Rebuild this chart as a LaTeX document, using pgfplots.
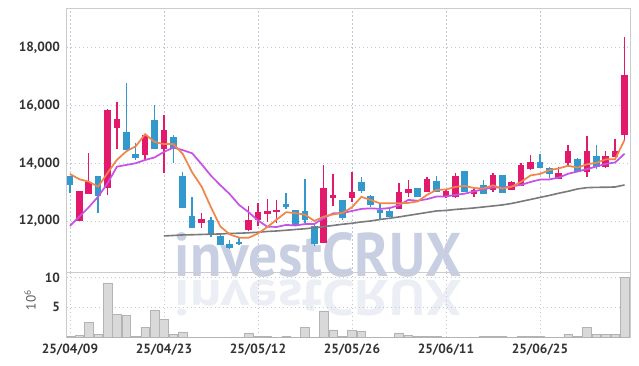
\documentclass[border=0pt]{standalone}
\usepackage{pgfplots}
\pgfplotsset{compat=1.18}
\usepackage{pgfplotstable}
\usepackage{fontspec}
\setmainfont{PT Sans}
\definecolor{upc}{HTML}{E3196B}
\definecolor{dnc}{HTML}{3399CC}
\definecolor{maA}{HTML}{F0864A}
\definecolor{maB}{HTML}{C653E6}
\definecolor{maC}{HTML}{7A7A7A}
\definecolor{gridc}{HTML}{C4C7D8}
\definecolor{framec}{HTML}{CCCCCC}
\definecolor{wm}{HTML}{C9CFE3}
\definecolor{wmr}{HTML}{ECEEF5}
\definecolor{volf}{HTML}{D9D9D9}
\definecolor{vole}{HTML}{B3B3B3}
\definecolor{labc}{HTML}{333333}

\pgfplotstableread{
i o h l c
1 12010 13030 12000 13016
2 12960 14346 12950 13327
4 13154 15870 12901 15847
5 15248 16114 14496 15535
8 14312 15000 14114 14981
10 14520 15674 13674 15154
14 11955 12267 11747 12069
19 11688 12530 11650 12035
20 12035 12613 11827 12288
21 12267 12752 11976 12322
22 12322 12728 11920 12381
27 11248 13941 11230 13133
28 12821 13629 12520 12877
30 12808 13709 12669 12995
35 12440 13327 12430 12995
36 12995 13421 12842 13099
38 13016 13535 13000 13445
40 12877 13070 12787 13040
41 12842 13653 12787 13560
43 12936 13189 12842 13075
45 13099 13653 13016 13594
47 13099 13400 13080 13341
48 13213 14000 13200 13941
49 13827 14288 13768 14035
52 13480 13882 13470 13653
53 14035 14634 13882 14402
55 13709 14946 13515 14426
57 13882 14426 13847 14253
58 14229 14832 14220 14426
59 15005 18388 14807 17060
}\upT

\pgfplotstableread{
i o h l c
0 13535 13550 12970 13248
3 13560 13570 12267 12877
6 15074 16773 14470 14485
7 14322 14693 14114 14194
9 15501 16021 14480 14500
11 14901 14981 14000 14520
12 13560 13709 12450 12461
13 12173 12821 11770 11782
15 12035 12128 11435 11539
16 11456 11574 11170 11192
17 11192 11341 11019 11088
18 11250 11400 11180 11220
23 12579 12981 12405 12496
24 12357 12381 11850 11861
25 12347 13445 11920 12035
26 11803 11896 11133 11227
29 12728 12740 12035 12128
31 13327 13525 12960 13040
32 12867 12901 12496 12579
33 12381 12613 12069 12301
34 12347 12440 12140 12150
37 13133 13140 12830 12842
39 13386 13545 12990 13016
42 13733 13740 13000 13016
44 13248 13421 12930 12936
46 13594 13600 12970 12981
50 14021 14312 13830 13847
51 13827 13882 13501 13629
54 14149 14194 13700 13709
56 14253 14634 13800 13882
}\dnT

\pgfplotstableread{
i ma5 ma10 vol
0 13629 11827 0.1
1 13445 12149 0.3
2 13362 12475 2.45
3 13189 12842 0.45
4 13663 13307 9.1
5 14120 13882 3.8
6 14414 13941 3.65
7 14588 14000 0.2
8 15008 14114 1.6
9 14739 14201 4.5
10 14662 14392 2.95
11 14669 14542 0.55
12 14323 14456 0.9
13 13683 14346 0.05
14 13197 13968 0.05
15 12474 13569 0.05
16 11809 13240 0.03
17 11534 12929 0.03
18 11422 12553 0.03
19 11415 12306 0.75
20 11565 12019 0.2
21 11791 11800 0.2
22 12049 11792 0.05
23 12304 11863 0.2
24 12270 11842 0.05
25 12219 11892 1.6
26 12000 11895 0.05
27 12150 12100 4.4
28 12227 12266 1.25
29 12280 12275 0.2
30 12472 12346 1.1
31 12835 12417 0.95
32 12724 12437 0.05
33 12609 12418 0.05
34 12613 12447 0.05
35 12613 12543 0.75
36 12625 12730 0.3
37 12677 12701 0.1
38 12906 12757 0.2
39 13079 12846 0.1
40 13088 12851 0.05
41 13181 12903 0.05
42 13215 12946 0.05
43 13141 13024 0.03
44 13125 13102 0.1
45 13236 13162 0.2
46 13120 13151 0.1
47 13185 13200 0.05
48 13359 13250 0.2
49 13578 13352 0.2
50 13629 13433 0.1
51 13759 13440 0.05
52 13821 13503 0.05
53 13913 13636 0.55
54 13848 13713 0.2
55 13964 13796 1.6
56 14014 13887 0.55
57 14134 13978 0.55
58 14139 14026 0.55
59 14809 14329 10.0
}\maT

\pgfplotstableread{
i v
10 11480
11 11497
12 11515
13 11522
14 11532
15 11542
16 11549
17 11567
18 11574
19 11591
20 11608
21 11636
22 11653
23 11678
24 11705
25 11729
26 11764
27 11802
28 11844
29 11886
30 11920
31 11965
32 12000
33 12052
34 12094
35 12139
36 12191
37 12243
38 12295
39 12347
40 12364
41 12399
42 12423
43 12451
44 12485
45 12520
46 12555
47 12607
48 12676
49 12745
50 12815
51 12884
52 12960
53 13029
54 13109
55 13154
56 13165
57 13168
58 13178
59 13248
}\grT

\begin{document}
\begin{tikzpicture}
\fill[white] (0pt,0pt) rectangle (479.25pt,274.5pt);
\useasboundingbox (0pt,0pt) rectangle (479.25pt,274.5pt);
% watermark and its reflection
\node[anchor=base west, inner sep=0pt, text=wmr, font=\fontsize{44}{44}\selectfont\bfseries, xscale=0.98, yscale=-0.85, transform shape] at (131pt,64pt) {investCRUX};
\node[anchor=base west, inner sep=0pt, text=wm, font=\fontsize{44}{44}\selectfont\bfseries, xscale=0.98, yscale=1.05, transform shape] at (131pt,66.75pt) {investCRUX};
\node[rotate=90, text=labc!80, font=\fontsize{10}{12}\selectfont] at (22.5pt,49.5pt) {10\textsuperscript{6}};

\begin{axis}[
  at={(50pt,70pt)}, anchor=south west,
  scale only axis, width=423pt, height=197.8pt,
  xmin=-0.35, xmax=59.65, ymin=10208, ymax=19348,
  axis line style={framec, line width=0.8pt},
  xtick={0,10,20,30,40,50}, xticklabels={},
  ytick={12000,14000,16000,18000},
  scaled y ticks=false,
  /pgf/number format/1000 sep={,},
  /pgf/number format/assume math mode=true,
  yticklabel style={font=\bfseries\fontsize{10}{12}\selectfont, text=labc, xshift=-1.5pt},
  major tick length=0pt,
  grid=major,
  major grid style={gridc, line width=0.6pt, dash pattern=on 1.1pt off 1.9pt},
]
% wicks
\addplot[forget plot, draw=none, no markers, error bars/.cd, y dir=both, y explicit, error mark=none,
  error bar style={draw=upc, line width=1.0pt, solid}]
  table[x=i, y expr={(\thisrow{h}+\thisrow{l})/2}, y error expr={(\thisrow{h}-\thisrow{l})/2}] {\upT};
\addplot[forget plot, draw=none, no markers, error bars/.cd, y dir=both, y explicit, error mark=none,
  error bar style={draw=dnc, line width=1.0pt, solid}]
  table[x=i, y expr={(\thisrow{h}+\thisrow{l})/2}, y error expr={(\thisrow{h}-\thisrow{l})/2}] {\dnT};
% bodies
\addplot[forget plot, draw=none, no markers, error bars/.cd, y dir=both, y explicit, error mark=none,
  error bar style={draw=upc, line width=5pt, solid}]
  table[x=i, y expr={(\thisrow{o}+\thisrow{c})/2}, y error expr={abs(\thisrow{c}-\thisrow{o})/2+10}] {\upT};
\addplot[forget plot, draw=none, no markers, error bars/.cd, y dir=both, y explicit, error mark=none,
  error bar style={draw=dnc, line width=5pt, solid}]
  table[x=i, y expr={(\thisrow{o}+\thisrow{c})/2}, y error expr={abs(\thisrow{c}-\thisrow{o})/2+10}] {\dnT};
% moving averages
\addplot[maC, line width=1.2pt, mark=none] table[x=i, y=v] {\grT};
\addplot[maB, line width=1.3pt, mark=none] table[x=i, y=ma10] {\maT};
\addplot[maA, line width=1.3pt, mark=none] table[x=i, y=ma5] {\maT};
\end{axis}

\begin{axis}[
  at={(50pt,21.5pt)}, anchor=south west,
  scale only axis, width=423pt, height=48.5pt,
  xmin=-0.35, xmax=59.65, ymin=0, ymax=10.8,
  axis line style={framec, line width=0.8pt},
  xtick={0,10,20,30,40,50},
  xticklabels={25/04/09,25/04/23,25/05/12,25/05/26,25/06/11,25/06/25},
  ytick={5,10},
  /pgf/number format/assume math mode=true,
  xticklabel style={font=\bfseries\fontsize{10}{12}\selectfont, text=labc, yshift=-1.5pt},
  yticklabel style={font=\bfseries\fontsize{10}{12}\selectfont, text=labc, xshift=-1.5pt},
  major tick length=0pt,
  grid=major,
  major grid style={gridc, line width=0.6pt, dash pattern=on 1.1pt off 1.9pt},
]
\addplot[ybar, bar width=6.5pt, fill=volf, draw=vole, line width=0.4pt] table[x=i, y=vol] {\maT};
\end{axis}
\end{tikzpicture}
\end{document}
